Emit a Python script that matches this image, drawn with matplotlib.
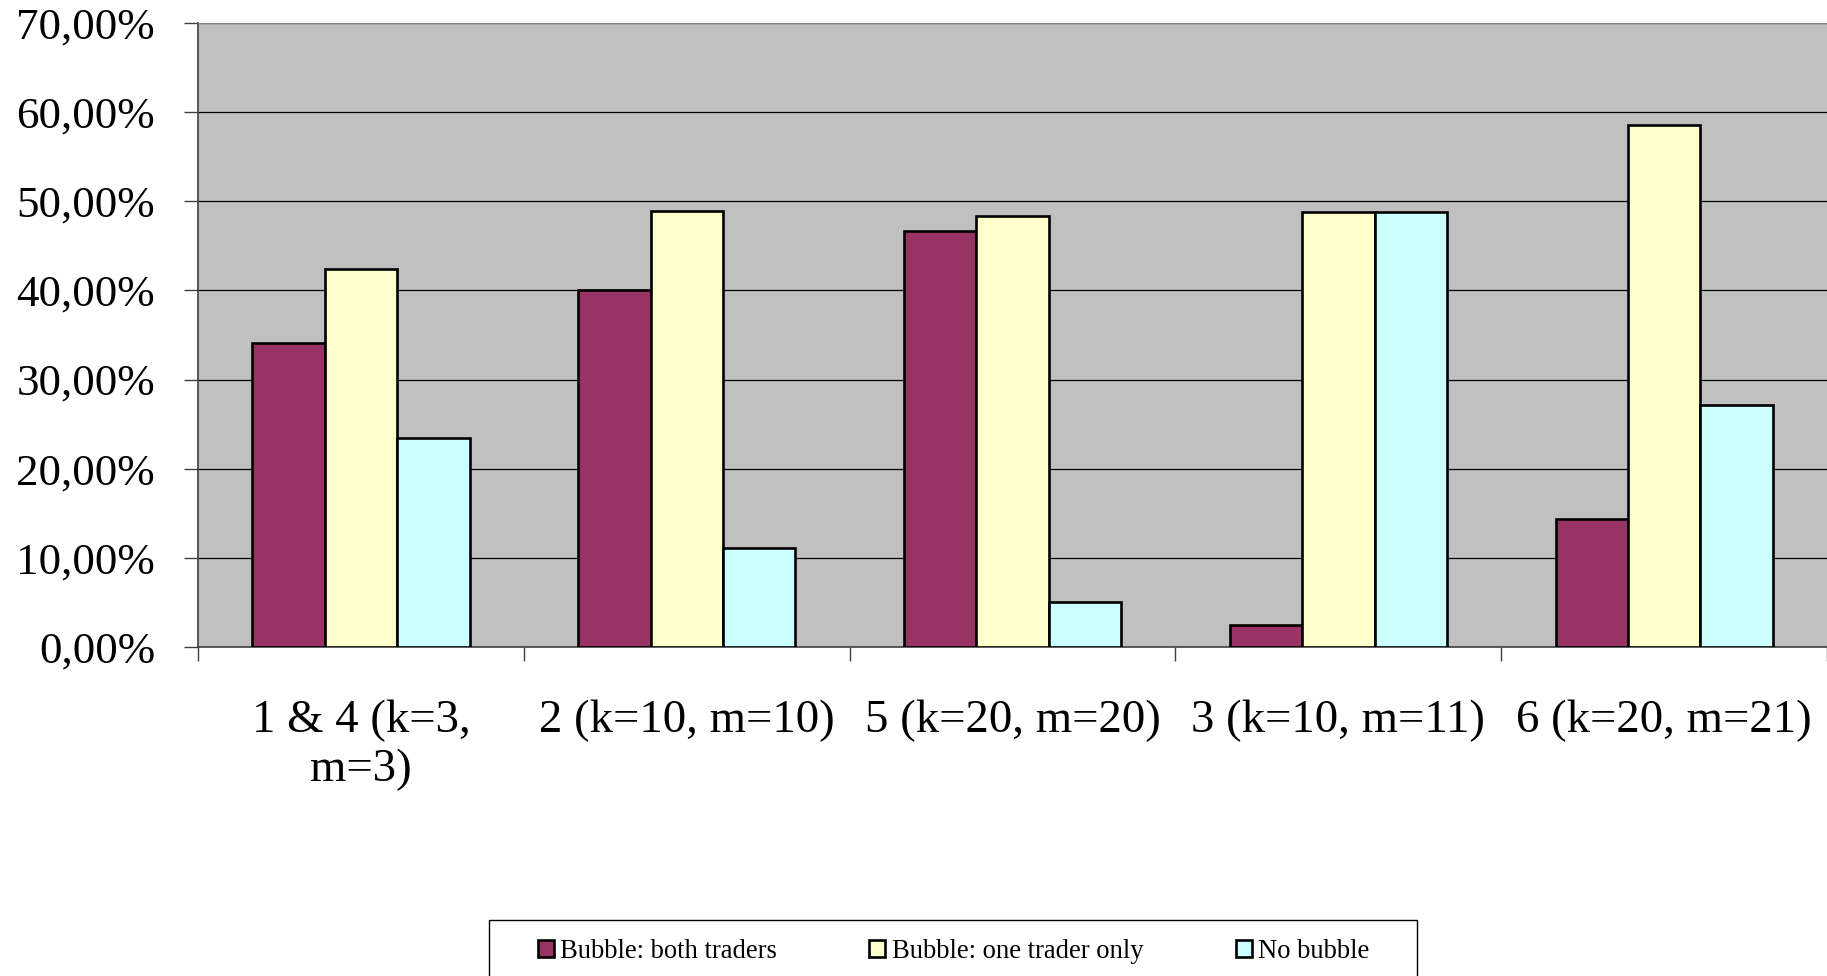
import matplotlib
matplotlib.use("Agg")
import matplotlib.pyplot as plt
import numpy as np
from matplotlib.patches import Rectangle
from matplotlib.ticker import FuncFormatter, MultipleLocator

# data (percent)
categories = ['1 & 4 (k=3,\nm=3)', '2 (k=10, m=10)', '5 (k=20, m=20)',
              '3 (k=10, m=11)', '6 (k=20, m=21)']
both_traders = [34.15, 40.00, 46.67, 2.44, 14.29]
one_trader = [42.44, 48.89, 48.33, 48.78, 58.57]
no_bubble = [23.41, 11.11, 5.00, 48.78, 27.14]
series_names = ['Bubble: both traders', 'Bubble: one trader only', 'No bubble']
colors = ['#993366', '#FFFFCC', '#CCFFFF']

plt.rcParams['font.family'] = ['Liberation Serif', 'DejaVu Serif']

fig = plt.figure(figsize=(18.27, 9.76), dpi=100)
ax = fig.add_axes([0.1084, 0.3374, 0.8916, 0.6387])
ax.set_facecolor('#C0C0C0')

x = np.arange(len(categories))
w = 1 / 4.5  # excel gap width 150%
for i, (vals, name, c) in enumerate(zip([both_traders, one_trader, no_bubble],
                                        series_names, colors)):
    ax.bar(x + (i - 1) * w, vals, width=w, color=c, edgecolor='black',
           linewidth=1.9, label=name, zorder=3)

ax.set_xlim(-0.5, len(categories) - 0.5)
ax.set_ylim(0, 70)
ax.yaxis.set_major_locator(MultipleLocator(10))
ax.yaxis.set_major_formatter(FuncFormatter(lambda v, p: f'{v:.2f}%'.replace('.', ',')))
ax.grid(axis='y', color='black', linewidth=0.9, zorder=1)

ax.set_xticks(x)
ax.set_xticklabels(categories, fontsize=33.7, multialignment='center')
ax.set_xticks(np.arange(-0.5, len(categories)), minor=True)
ax.tick_params(axis='x', which='major', length=0, pad=38)
ax.tick_params(axis='x', which='minor', length=10, width=1, color='#404040')
ax.tick_params(axis='y', labelsize=32.4, length=10, width=1, pad=21, color='#404040')

for side in ['left', 'bottom']:
    ax.spines[side].set_color('#404040')
    ax.spines[side].set_linewidth(1.2)
ax.spines['top'].set_color('#808080')
ax.spines['right'].set_visible(False)

handles, labels = ax.get_legend_handles_labels()
fig.legend(handles, labels, loc='center', bbox_to_anchor=(0.522, 0.0256),
           ncol=3, frameon=False, fontsize=19.2, handlelength=0.6,
           handleheight=0.6, handletextpad=0.25, columnspacing=3.45,
           borderpad=0)
fig.patches.append(Rectangle((489 / 1827, -0.05), (1417 - 489) / 1827, 0.1074,
                             transform=fig.transFigure, fill=False,
                             edgecolor='black', linewidth=1))

fig.savefig('out.png', dpi=100)
